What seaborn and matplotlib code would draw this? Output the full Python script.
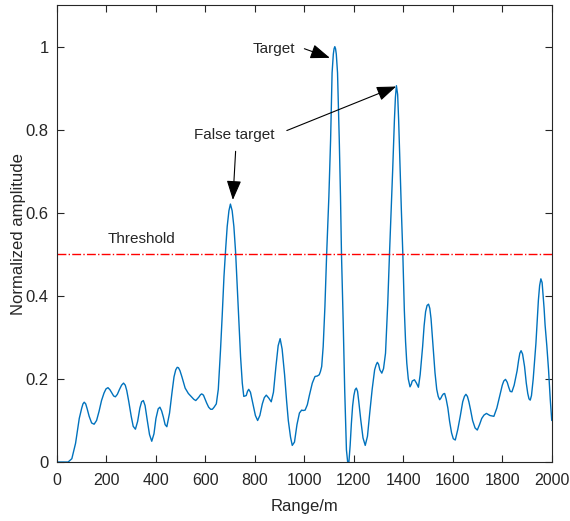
import matplotlib
matplotlib.use("Agg")
import matplotlib.pyplot as plt
import seaborn as sns
import pandas as pd

# Normalized range profile samples
range_m = [0, 45, 60, 75, 90, 100, 105, 110, 116, 122, 130, 140, 150, 160, 170, 180, 190, 198,
           206, 214, 222, 229, 236, 244, 252, 261, 269, 276, 282, 290, 300, 308, 317, 326,
           335, 342, 349, 356, 365, 374, 383, 392, 400, 409, 416, 423, 430, 437, 444, 455,
           465, 473, 480, 486, 491, 497, 505, 518, 531, 545, 553, 561, 573, 580, 585, 592, 605,
           613, 621, 628, 635, 644, 652, 661, 668, 675, 682, 688, 695, 701, 708, 715, 722,
           728, 735, 742, 749, 755, 765, 770, 775, 782, 792, 802, 811, 820, 830, 838, 846, 856,
           866, 875, 885, 894, 902, 910, 920, 928, 935, 944, 951, 960, 970, 980, 989, 995, 1003,
           1012, 1020, 1032, 1043, 1052, 1060, 1065, 1070, 1076, 1083, 1090, 1099, 1106, 1112,
           1117, 1120, 1123, 1126, 1129, 1134, 1141, 1146, 1150, 1157, 1163, 1170, 1175, 1180,
           1185, 1190, 1195, 1200, 1205, 1210, 1215, 1220, 1228, 1237, 1246, 1255, 1264, 1274,
           1284, 1290, 1295, 1300, 1305, 1313, 1320, 1328, 1337, 1344, 1351, 1357, 1364, 1368,
           1372, 1377, 1381, 1387, 1392, 1398, 1404, 1409, 1414, 1420, 1427, 1432, 1436, 1445,
           1453, 1461, 1468, 1478, 1484, 1490, 1496, 1502, 1507, 1512, 1517, 1522, 1528, 1535,
           1541, 1547, 1552, 1557, 1562, 1567, 1573, 1580, 1587, 1595, 1602, 1610, 1620, 1630,
           1640, 1647, 1653, 1659, 1665, 1672, 1680, 1690, 1699, 1708, 1717, 1726, 1736, 1750,
           1766, 1778, 1790, 1800, 1806, 1813, 1820, 1826, 1832, 1839, 1848, 1860, 1866, 1871,
           1876, 1882, 1890, 1897, 1903, 1908, 1913, 1918, 1925, 1930, 1936, 1941, 1946, 1951,
           1956, 1961, 1965, 1969, 1973, 1980, 1987, 1994, 2000]
amplitude = [0.0, 0.0, 0.008, 0.045, 0.105, 0.130, 0.140, 0.144, 0.140, 0.128, 0.110, 0.094,
             0.091, 0.100, 0.122, 0.148, 0.166, 0.176, 0.179, 0.174, 0.166, 0.159, 0.157, 0.163,
             0.174, 0.185, 0.190, 0.185, 0.172, 0.146, 0.110, 0.086, 0.079, 0.098, 0.130, 0.145,
             0.148, 0.136, 0.100, 0.066, 0.050, 0.068, 0.105, 0.128, 0.132, 0.123, 0.108, 0.090,
             0.085, 0.118, 0.168, 0.205, 0.222, 0.228, 0.227, 0.220, 0.205, 0.178, 0.165, 0.156,
             0.151, 0.148, 0.156, 0.162, 0.164, 0.161, 0.142, 0.132, 0.127, 0.127, 0.132, 0.140,
             0.175, 0.27, 0.355, 0.447, 0.515, 0.567, 0.605, 0.621, 0.605, 0.567, 0.505, 0.431,
             0.34, 0.254, 0.19, 0.158, 0.160, 0.170, 0.175, 0.168, 0.140, 0.112, 0.100, 0.112,
             0.140, 0.155, 0.161, 0.154, 0.145, 0.168, 0.23, 0.280, 0.297, 0.272, 0.21, 0.148,
             0.10, 0.060, 0.040, 0.048, 0.09, 0.118, 0.125, 0.124, 0.125, 0.138, 0.16, 0.190,
             0.206, 0.207, 0.210, 0.218, 0.23, 0.278, 0.374, 0.5, 0.639, 0.776, 0.937, 0.982,
             0.995, 1.0, 0.995, 0.982, 0.937, 0.776, 0.639, 0.5, 0.334, 0.173, 0.029, 0.0, 0.0,
             0.040, 0.093, 0.135, 0.160, 0.174, 0.178, 0.170, 0.145, 0.101, 0.058, 0.040, 0.062,
             0.117, 0.175, 0.222, 0.234, 0.240, 0.235, 0.222, 0.214, 0.225, 0.262, 0.382, 0.5,
             0.607, 0.704, 0.824, 0.878, 0.906, 0.885, 0.824, 0.704, 0.607, 0.5, 0.366, 0.29,
             0.238, 0.200, 0.181, 0.187, 0.195, 0.198, 0.190, 0.180, 0.210, 0.278, 0.328, 0.362,
             0.377, 0.380, 0.370, 0.345, 0.305, 0.262, 0.215, 0.175, 0.158, 0.150, 0.154, 0.160,
             0.164, 0.165, 0.152, 0.130, 0.098, 0.070, 0.056, 0.053, 0.078, 0.11, 0.145, 0.158,
             0.163, 0.158, 0.145, 0.125, 0.10, 0.082, 0.077, 0.090, 0.105, 0.113, 0.117, 0.112,
             0.110, 0.130, 0.160, 0.185, 0.195, 0.199, 0.192, 0.180, 0.170, 0.169, 0.185, 0.22,
             0.245, 0.262, 0.268, 0.260, 0.23, 0.190, 0.165, 0.152, 0.149, 0.160, 0.20, 0.240,
             0.286, 0.340, 0.39, 0.425, 0.441, 0.432, 0.40, 0.370, 0.33, 0.28, 0.222, 0.150,
             0.100]
threshold = 0.5
x_ticks = [0, 200, 400, 600, 800, 1000, 1200, 1400, 1600, 1800, 2000]
y_ticks = [0, 0.2, 0.4, 0.6, 0.8, 1.0]
y_tick_labels = ["0", "0.2", "0.4", "0.6", "0.8", "1"]

sns.set_style("ticks")
plt.rcParams["font.family"] = ["Liberation Sans", "DejaVu Sans"]
plt.rcParams["xtick.direction"] = "in"
plt.rcParams["ytick.direction"] = "in"

df = pd.DataFrame({"Range/m": range_m, "Normalized amplitude": amplitude})

fig = plt.figure(figsize=(5.70, 5.21), dpi=100)
ax = fig.add_axes([0.1, 0.1132, 0.868, 0.877])

sns.lineplot(data=df, x="Range/m", y="Normalized amplitude", ax=ax,
             color="#0072BD", linewidth=1.0, solid_joinstyle="round")
ax.axhline(threshold, color="#FF0000", linestyle="-.", linewidth=1.0)

ax.set_xlim(0, 2000)
ax.set_ylim(0, 1.1)
ax.set_xticks(x_ticks)
ax.set_xticklabels([str(t) for t in x_ticks])
ax.set_yticks(y_ticks)
ax.set_yticklabels(y_tick_labels)
ax.tick_params(axis="both", which="both", direction="in", top=True, right=True,
               length=5, width=0.8, labelsize=12, colors="#262626")
ax.tick_params(axis="x", pad=8, labelsize=11.5)
ax.tick_params(axis="y", pad=6)
for s in ax.spines.values():
    s.set_visible(True)
    s.set_color("#262626")
    s.set_linewidth(0.8)
ax.set_xlabel("Range/m", fontsize=12, color="#262626", labelpad=8)
ax.set_ylabel("Normalized amplitude", fontsize=12, color="#262626", labelpad=0)

arrow = dict(arrowstyle="-|>,head_length=1.2,head_width=0.45", color="black",
             lw=0.8, shrinkA=0, shrinkB=0)
ax.annotate("", xy=(1103, 0.973), xytext=(1000, 0.995), arrowprops=arrow)
ax.text(877, 0.995, "Target", ha="center", va="center", fontsize=11)
ax.text(718, 0.788, "False target", ha="center", va="center", fontsize=11)
ax.annotate("", xy=(1371, 0.904), xytext=(929, 0.798), arrowprops=arrow)
ax.annotate("", xy=(711, 0.631), xytext=(722, 0.748), arrowprops=arrow)
ax.text(341, 0.537, "Threshold", ha="center", va="center", fontsize=11)

fig.savefig("out.png", dpi=100)
